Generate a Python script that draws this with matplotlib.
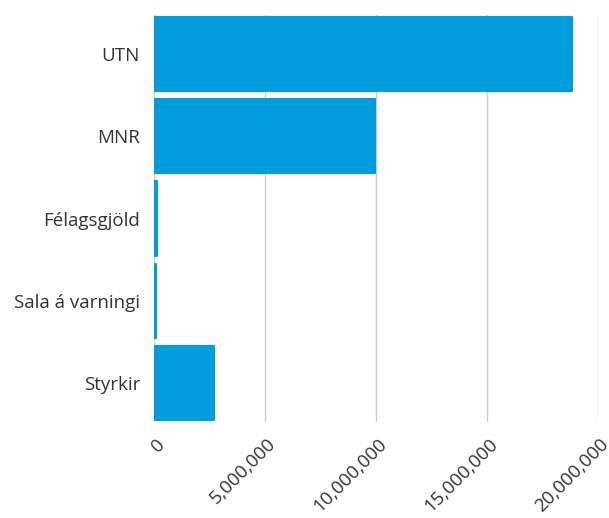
import matplotlib
matplotlib.use("Agg")
import matplotlib.pyplot as plt
import matplotlib.transforms as mtransforms
from matplotlib.ticker import FuncFormatter

plt.rcParams['font.family'] = ['Open Sans', 'DejaVu Sans']

# tekjuliðir
categories = ["UTN", "MNR", "Félagsgjöld", "Sala á varningi", "Styrkir"]
values = [18850000, 9950000, 150000, 70000, 2700000]
ticks = [0, 5000000, 10000000, 15000000, 20000000]

bar_color = "#009cdc"

fig = plt.figure(figsize=(6.09, 5.18), dpi=100)
ax = fig.add_axes([154 / 609, (518 - 422) / 518, 444 / 609, 407 / 518])

bars = ax.barh(categories, values, height=0.9, color=bar_color,
               edgecolor=bar_color, linewidth=1.5, zorder=3)
for b in bars:
    b.set_joinstyle("round")

ax.set_xlim(0, 20000000)
ax.set_ylim(4.47, -0.47)
ax.set_xticks(ticks)
ax.xaxis.set_major_formatter(FuncFormatter(lambda v, p: f"{int(v):,}"))
ax.grid(axis="x", color="#cccccc", linewidth=1, zorder=0)
ax.set_axisbelow(True)

for s in ax.spines.values():
    s.set_visible(False)

ax.tick_params(axis="both", length=0, labelsize=13.5, labelcolor="#333333")
ax.tick_params(axis="y", pad=10)
ax.tick_params(axis="x", pad=14)

offset = mtransforms.ScaledTranslation(8 / 100, 0, fig.dpi_scale_trans)
for lbl in ax.get_xticklabels():
    lbl.set_rotation(45)
    lbl.set_ha("right")
    lbl.set_va("center")
    lbl.set_rotation_mode("anchor")
    lbl.set_transform(lbl.get_transform() + offset)

fig.savefig("out.png", dpi=100)
